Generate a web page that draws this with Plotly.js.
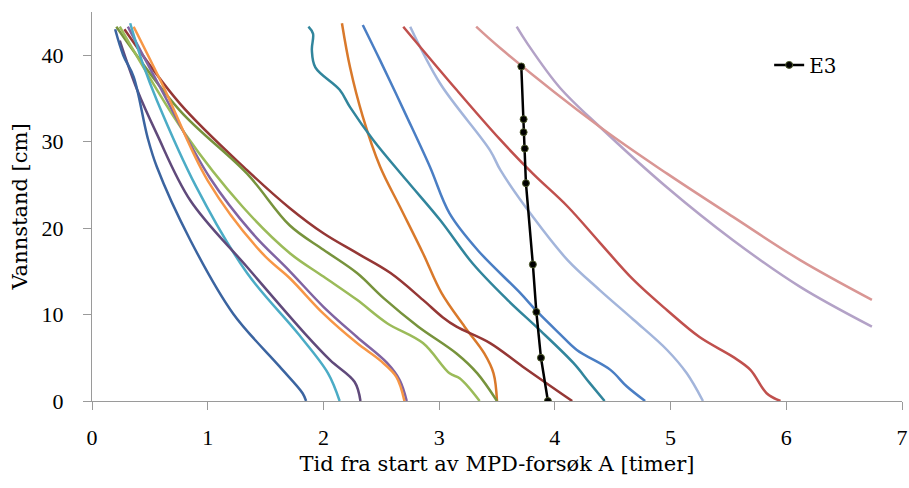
<!DOCTYPE html>
<html>
<head>
<meta charset="utf-8">
<script src="https://cdn.plot.ly/plotly-3.0.1.min.js"></script>
<style>html,body{margin:0;padding:0;background:#fff;}#chart{width:909px;height:488px;}</style>
</head>
<body>
<div id="chart"></div>
<script>
// Time [hours] (x) and water level [cm] (y) for each run
const s1x = [0.20, 0.27, 0.36, 0.48, 0.56, 0.85, 1.22, 1.62, 1.82, 1.85];
const s1y = [43.0, 40.0, 37.5, 30.5, 27.1, 18.6, 10.1, 4.0, 0.9, 0];
const s2x = [0.24, 0.39, 0.56, 0.85, 1.34, 1.84, 2.06, 2.27, 2.32];
const s2y = [41.7, 36.0, 30.9, 23.2, 15.5, 7.8, 4.7, 2.2, 0];
const s3x = [0.33, 0.44, 0.56, 0.90, 1.34, 1.78, 2.04, 2.14];
const s3y = [43.7, 39.0, 34.8, 24.8, 14.8, 7.8, 3.2, 0];
const s4x = [0.36, 0.62, 1.00, 1.47, 1.71, 2.00, 2.29, 2.49, 2.63, 2.70];
const s4y = [43.3, 36.3, 25.5, 17.1, 14.2, 10.1, 6.7, 4.7, 2.8, 0];
const s5x = [0.31, 0.58, 1.02, 1.38, 1.71, 2.00, 2.29, 2.55, 2.66, 2.72];
const s5y = [43.3, 36.5, 25.8, 19.5, 15.0, 10.9, 7.4, 4.4, 2.4, 0];
const s6x = [0.24, 0.80, 1.30, 1.71, 2.00, 2.29, 2.55, 2.86, 3.09, 3.18, 3.35];
const s6y = [43.3, 31.0, 22.5, 17.1, 14.4, 11.7, 9.0, 6.7, 3.2, 2.6, 0];
const s7x = [0.21, 0.76, 1.34, 1.71, 2.00, 2.29, 2.52, 2.82, 3.15, 3.33, 3.50];
const s7y = [43.3, 33.6, 26.3, 20.3, 17.5, 14.8, 11.9, 8.6, 5.5, 3.2, 0];
const s8x = [0.28, 0.76, 1.34, 1.71, 2.00, 2.29, 2.58, 2.86, 3.03, 3.15, 3.44, 3.72, 4.15];
const s8y = [43.0, 34.4, 26.7, 22.3, 19.4, 17.1, 14.8, 11.7, 9.7, 8.6, 6.7, 4.0, 0];
const s9x = [1.87, 1.91, 1.90, 1.93, 2.14, 2.23, 2.43, 2.72, 3.01, 3.29, 3.59, 3.87, 4.16, 4.30, 4.43];
const s9y = [43.3, 42.5, 40.6, 38.6, 36.0, 34.0, 30.2, 25.5, 20.9, 15.9, 11.7, 8.2, 4.4, 2.1, 0];
const s10x = [2.16, 2.23, 2.34, 2.49, 2.66, 2.86, 3.02, 3.22, 3.39, 3.47, 3.50];
const s10y = [43.7, 38.6, 32.9, 27.1, 22.5, 17.1, 12.5, 8.6, 5.5, 3.2, 0];
const s11x = [2.34, 2.49, 2.72, 2.92, 3.09, 3.33, 3.70, 3.85, 4.04, 4.19, 4.48, 4.62, 4.78];
const s11y = [43.5, 39.4, 32.9, 27.1, 21.7, 17.5, 12.5, 10.3, 7.8, 5.9, 3.6, 1.7, 0];
const s12x = [2.69, 3.15, 3.53, 3.81, 4.11, 4.39, 4.68, 4.97, 5.25, 5.54, 5.69, 5.83, 5.95];
const s12y = [43.3, 36.0, 30.2, 26.3, 22.5, 18.3, 14.0, 10.5, 7.4, 5.1, 3.6, 0.9, 0];
const s13x = [2.75, 3.01, 3.44, 3.53, 3.81, 4.11, 4.39, 4.68, 4.97, 5.14, 5.28];
const s13y = [43.3, 36.7, 29.0, 26.7, 21.3, 16.3, 12.8, 9.4, 5.9, 3.2, 0];
const s14x = [3.32, 3.53, 4.39, 4.97, 5.54, 6.12, 6.74];
const s14y = [43.3, 40.8, 31.7, 26.3, 21.3, 16.3, 11.7];
const s15x = [3.67, 3.76, 4.04, 4.39, 4.97, 5.54, 6.12, 6.74];
const s15y = [43.3, 41.4, 36.3, 31.7, 24.7, 18.6, 13.2, 8.6];
const e3x = [3.71, 3.73, 3.73, 3.74, 3.75, 3.81, 3.84, 3.88, 3.94];
const e3y = [38.7, 32.6, 31.1, 29.2, 25.2, 15.8, 10.3, 5.0, 0];
const e3Name = "E3";

const xTitle = "Tid fra start av MPD-forsøk A [timer]";
const yTitle = "Vannstand [cm]";

const series = [
  [s15x, s15y, "#B3A2C7"],
  [s14x, s14y, "#D99694"],
  [s13x, s13y, "#A3B5DB"],
  [s12x, s12y, "#C0504D"],
  [s11x, s11y, "#4A7EC4"],
  [s10x, s10y, "#D9792B"],
  [s9x, s9y, "#31859C"],
  [s8x, s8y, "#953735"],
  [s7x, s7y, "#77933C"],
  [s6x, s6y, "#9BBB59"],
  [s5x, s5y, "#8064A2"],
  [s4x, s4y, "#F79646"],
  [s3x, s3y, "#4BACC6"],
  [s2x, s2y, "#604A7B"],
  [s1x, s1y, "#3B64A0"]
];

const traces = series.map(s => ({
  x: s[0], y: s[1], type: "scatter", mode: "lines",
  line: {color: s[2], width: 2.5, shape: "spline", smoothing: 1.0},
  showlegend: false, hoverinfo: "skip"
}));
traces.push({
  x: e3x, y: e3y, type: "scatter", mode: "lines+markers", name: e3Name,
  line: {color: "#000000", width: 2.5},
  marker: {color: "#000000", size: 7, line: {color: "#4d5a2a", width: 1}}
});

const tickFam = "Liberation Serif, serif";
const titleFam = "DejaVu Serif, Liberation Serif, serif";
const layout = {
  width: 909, height: 488,
  margin: {l: 92, r: 7, t: 12, b: 87},
  paper_bgcolor: "#ffffff", plot_bgcolor: "#ffffff",
  font: {family: tickFam, size: 22, color: "#000000"},
  showlegend: true,
  legend: {x: 0.836, y: 0.864, xanchor: "left", yanchor: "middle",
           bgcolor: "rgba(0,0,0,0)", font: {size: 20, family: titleFam}, itemwidth: 30},
  xaxis: {
    range: [0, 7], dtick: 1, tick0: 0,
    showgrid: false, zeroline: false, showline: true, linecolor: "#9A9A9A", linewidth: 1,
    ticks: "outside", ticklen: 8, tickcolor: "#9A9A9A",
    ticklabelstandoff: 9,
    tickfont: {size: 22, family: tickFam},
    title: {text: xTitle, font: {size: 21, family: titleFam}, standoff: 6}
  },
  yaxis: {
    range: [0, 45], tickvals: [0, 10, 20, 30, 40],
    showgrid: false, zeroline: false, showline: true, linecolor: "#9A9A9A", linewidth: 1,
    ticks: "outside", ticklen: 8, tickcolor: "#9A9A9A",
    ticklabelstandoff: 15,
    tickfont: {size: 22, family: tickFam},
    title: {text: yTitle, font: {size: 21, family: titleFam}, standoff: 8}
  }
};

Plotly.newPlot("chart", traces, layout, {staticPlot: true, displayModeBar: false});
</script>
</body>
</html>
